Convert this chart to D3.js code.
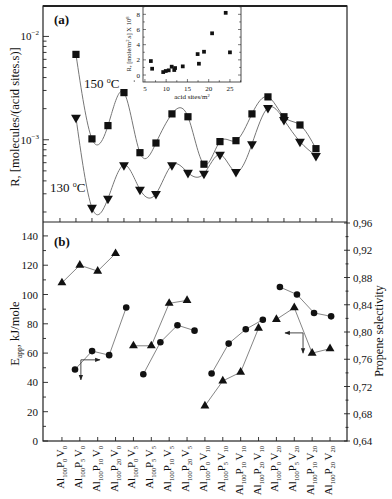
<!DOCTYPE html>
<html><head><meta charset="utf-8">
<script src="https://cdn.jsdelivr.net/npm/d3@7"></script>
<style>body{margin:0;background:#fff}svg{display:block}text{font-family:"Liberation Serif","Times New Roman",serif;fill:#111}</style>
</head><body><svg id="c" width="392" height="499"></svg>
<script>
// ---- data ----
const categories = ["Al100P0V0","Al100P5V0","Al100P10V0","Al100P20V0","Al100P0V5","Al100P5V5","Al100P10V5","Al100P20V5","Al100P0V10","Al100P5V10","Al100P10V10","Al100P20V10","Al100P0V20","Al100P5V20","Al100P10V20","Al100P20V20"];
const rate150 = [6.7e-3,1.02e-3,1.37e-3,2.86e-3,7.5e-4,9.3e-4,1.78e-3,1.67e-3,5.8e-4,9.6e-4,9.8e-4,1.78e-3,2.6e-3,1.67e-3,1.39e-3,8.2e-4];
const rate130 = [1.64e-3,2.2e-4,2.7e-4,5.7e-4,3.3e-4,3.0e-4,5.7e-4,4.8e-4,4.7e-4,7.2e-4,4.9e-4,9.1e-4,2.04e-3,1.56e-3,9.6e-4,7.0e-4];
const eapp = [108,120,116,128,65,65,94,96,24,41,47,77,83,91,60,63];
const selectivity = [0.745,0.772,0.766,0.836,0.738,0.785,0.810,0.802,0.739,0.783,0.804,0.818,0.866,0.855,0.828,0.823];
const acidSites = [6.4,6.7,9.3,9.9,10.6,11.3,11.9,12.1,13.9,17.4,17.7,18.9,20.8,24.0,25.0];
const insetRate = [1.84,0.83,0.39,0.53,0.62,1.1,0.66,0.92,1.14,2.76,1.49,3.07,5.5,8.2,2.99];
const eTicks = [0,20,40,60,80,100,120,140];
const sTicks = [0.64,0.68,0.72,0.76,0.80,0.84,0.88,0.92,0.96];
const insetXTicks = [5,10,15,20,25];
const insetYTicks = [0,2,4,6,8];
// arrows (in category-index / Eapp units): corner, horizontal end, vertical end
const arrows = [
  {cx:1.06, cy:55.4, hx:2.13, vy:41.7},
  {cx:13.49, cy:73.8, hx:12.48, vy:60}
];

// ---- layout ----
const svg = d3.select("#c");
const L=43, R=347, T=6, M=222, B=441;
const xA = d3.scaleLinear().domain([-2.06,16.94]).range([L,R]);
const yA = d3.scaleLog().domain([1.6e-4,1.97e-2]).range([M,T]);
const xT = d3.scaleLinear().domain([-1.06,15.95]).range([L,R]);
const xC = d3.scaleLinear().domain([-1.875,15.93]).range([L,R]);
const yE = d3.scaleLinear().domain([0,149.5]).range([B,M]);
const yS = d3.scaleLinear().domain([0.64,0.96]).range([B,M+1]);
const ix = d3.scaleLinear().domain([4.55,27.6]).range([143,241]);
const iy = d3.scaleLinear().domain([-0.92,9.1]).range([82,T]);

const defs = svg.append("defs");
defs.append("marker").attr("id","ah").attr("viewBox","0 0 10 10").attr("refX",9).attr("refY",5)
  .attr("markerWidth",6).attr("markerHeight",6).attr("orient","auto")
  .append("path").attr("d","M0,1L10,5L0,9z").attr("fill","#222");

const ink="#222", curveCol="#777";

// ---- panel (a) ----
const gA = svg.append("g");
const logTicks = yA.ticks();
logTicks.forEach(v=>{
  const major = Math.abs(Math.log10(v)-Math.round(Math.log10(v)))<1e-6;
  gA.append("line").attr("x1",L).attr("x2",L+(major?6:3.5)).attr("y1",yA(v)).attr("y2",yA(v)).attr("stroke",ink).attr("stroke-width",0.9);
  if(major){
    const t = gA.append("text").attr("x",L-4).attr("y",yA(v)+4).attr("text-anchor","end").style("font-size","11px");
    t.append("tspan").text("10");
    t.append("tspan").attr("dy",-5).style("font-size","7px").text("\u2212"+(-Math.round(Math.log10(v))));
  }
});
d3.range(-1,17).forEach(i=>{
  gA.append("line").attr("x1",xA(i)).attr("x2",xA(i)).attr("y1",M).attr("y2",M-4).attr("stroke",ink).attr("stroke-width",0.9);
});
const lineA = d3.line().x((d,i)=>xA(i)).y(d=>yA(d)).curve(d3.curveNatural);
gA.append("path").attr("d",lineA(rate150)).attr("fill","none").attr("stroke",curveCol).attr("stroke-width",1);
gA.append("path").attr("d",lineA(rate130)).attr("fill","none").attr("stroke",curveCol).attr("stroke-width",1);
gA.selectAll(".sq").data(rate150).join("path")
  .attr("d",d3.symbol(d3.symbolSquare,52)())
  .attr("transform",(d,i)=>`translate(${xA(i)},${yA(d)})`).attr("fill","#111");
gA.selectAll(".td").data(rate130).join("path")
  .attr("d",d3.symbol(d3.symbolTriangle,42)())
  .attr("transform",(d,i)=>`translate(${xA(i)},${yA(d)}) rotate(180)`).attr("fill","#111");
function degLabel(x,y,num){
  const t=gA.append("text").attr("x",x).attr("y",y).style("font-size","13px");
  t.append("tspan").text(num+" ");
  t.append("tspan").attr("dy",-5).style("font-size","8px").text("o");
  t.append("tspan").attr("dy",5).text("C");
}
degLabel(84,88,"150");
degLabel(50,192,"130");
svg.append("text").attr("x",54).attr("y",24).style("font-size","13px").style("font-weight","bold").text("(a)");
svg.append("text").attr("transform",`translate(19,${(T+M)/2+3}) rotate(-90)`).attr("text-anchor","middle").style("font-size","12.5px").text("R, [molecules/(acid sites.s)]");

// ---- inset ----
const gI = svg.append("g");
gI.append("rect").attr("x",ix.range()[0]).attr("y",T).attr("width",ix.range()[1]-ix.range()[0]).attr("height",82-T).attr("fill","#fff").attr("stroke",ink).attr("stroke-width",0.8);
d3.range(2.5,27.6,2.5).forEach(v=>{
  const major = v%5===0;
  gI.append("line").attr("x1",ix(v)).attr("x2",ix(v)).attr("y1",82).attr("y2",82-(major?3:1.8)).attr("stroke",ink).attr("stroke-width",0.6);
});
insetXTicks.forEach(v=>gI.append("text").attr("x",ix(v)).attr("y",91).attr("text-anchor","middle").style("font-size","7px").text(v));
d3.range(0,10,1).forEach(v=>{
  const major = v%2===0;
  gI.append("line").attr("x1",143).attr("x2",143+(major?3:1.8)).attr("y1",iy(v)).attr("y2",iy(v)).attr("stroke",ink).attr("stroke-width",0.6);
  gI.append("line").attr("x1",241).attr("x2",241-(major?3:1.8)).attr("y1",iy(v)).attr("y2",iy(v)).attr("stroke",ink).attr("stroke-width",0.6);
});
insetYTicks.forEach(v=>gI.append("text").attr("x",140).attr("y",iy(v)+2.5).attr("text-anchor","end").style("font-size","7px").text(v));
gI.selectAll(".is").data(acidSites).join("path")
  .attr("d",d3.symbol(d3.symbolSquare,14)())
  .attr("transform",(d,i)=>`translate(${ix(d)},${iy(insetRate[i])})`).attr("fill","#111");
const il = gI.append("text").attr("transform",`translate(131,44) rotate(-90)`).attr("text-anchor","middle").style("font-size","6.5px");
il.append("tspan").text("R, [mole/m");
il.append("tspan").attr("dy",-2.5).style("font-size","4.5px").text("2");
il.append("tspan").attr("dy",2.5).text(".s] X 10");
il.append("tspan").attr("dy",-2.5).style("font-size","4.5px").text("8");
const xl = gI.append("text").attr("x",192).attr("y",99).attr("text-anchor","middle").style("font-size","7px");
xl.append("tspan").text("acid sites/m");
xl.append("tspan").attr("dy",-2.5).style("font-size","4.5px").text("2");

// ---- panel (b) ----
const gB = svg.append("g");
d3.range(0,150,10).forEach(v=>{
  const major = v%20===0;
  gB.append("line").attr("x1",L).attr("x2",L+(major?5:3)).attr("y1",yE(v)).attr("y2",yE(v)).attr("stroke",ink).attr("stroke-width",0.9);
});
eTicks.forEach(v=>gB.append("text").attr("x",L-5).attr("y",yE(v)+4).attr("text-anchor","end").style("font-size","11px").text(v));
d3.range(0.64,0.9601,0.02).forEach(v=>{
  const major = Math.round(v*100)%4===0;
  gB.append("line").attr("x1",R-(major?3:1.5)).attr("x2",R+(major?3:1.5)).attr("y1",yS(v)).attr("y2",yS(v)).attr("stroke",ink).attr("stroke-width",0.9);
});
sTicks.forEach(v=>gB.append("text").attr("x",R+6).attr("y",yS(v)+4).style("font-size","11px").text(d3.format(".2f")(v).replace(".",",")));
categories.forEach((c,i)=>{
  gB.append("line").attr("x1",xT(i)).attr("x2",xT(i)).attr("y1",B).attr("y2",B-4).attr("stroke",ink).attr("stroke-width",0.9);
  const m = c.match(/Al(\d+)P(\d+)V(\d+)/);
  const x = xT(i)+2, y = B+5;
  const t = gB.append("text").attr("transform",`translate(${x},${y}) rotate(-90)`).attr("text-anchor","end").style("font-size","11px");
  t.append("tspan").text("Al");
  t.append("tspan").attr("dy",3).style("font-size","6.5px").text(m[1]);
  t.append("tspan").attr("dy",-3).text("P");
  t.append("tspan").attr("dy",3).style("font-size","6.5px").text(m[2]);
  t.append("tspan").attr("dy",-3).attr("dx",1.5).text("V");
  t.append("tspan").attr("dy",3).style("font-size","6.5px").text(m[3]);
});
const lineE = d3.line().x(d=>xT(d.i)).y(d=>yE(d.v));
const lineS = d3.line().x(d=>xC(d.i)).y(d=>yS(d.v));
d3.range(4).forEach(g=>{
  const e = eapp.map((v,i)=>({i,v})).slice(g*4,g*4+4);
  const s = selectivity.map((v,i)=>({i,v})).slice(g*4,g*4+4);
  gB.append("path").attr("d",lineE(e)).attr("fill","none").attr("stroke",curveCol).attr("stroke-width",0.9);
  gB.append("path").attr("d",lineS(s)).attr("fill","none").attr("stroke",curveCol).attr("stroke-width",0.9);
});
gB.selectAll(".tu").data(eapp).join("path")
  .attr("d",d3.symbol(d3.symbolTriangle,34)())
  .attr("transform",(d,i)=>`translate(${xT(i)},${yE(d)})`).attr("fill","#111");
gB.selectAll(".ci").data(selectivity).join("circle")
  .attr("cx",(d,i)=>xC(i)).attr("cy",d=>yS(d)).attr("r",3.3).attr("fill","#111");
arrows.forEach(a=>{
  gB.append("line").attr("x1",xT(a.cx)).attr("y1",yE(a.cy)).attr("x2",xT(a.hx)).attr("y2",yE(a.cy)).attr("stroke","#333").attr("stroke-width",0.9).attr("marker-end","url(#ah)");
  gB.append("line").attr("x1",xT(a.cx)).attr("y1",yE(a.cy)).attr("x2",xT(a.cx)).attr("y2",yE(a.vy)).attr("stroke","#333").attr("stroke-width",0.9).attr("marker-end","url(#ah)");
});
svg.append("text").attr("x",54).attr("y",246).style("font-size","13px").style("font-weight","bold").text("(b)");
const el = svg.append("text").attr("transform",`translate(19,${(M+B)/2+2}) rotate(-90)`).attr("text-anchor","middle").style("font-size","12.5px");
el.append("tspan").text("E");
el.append("tspan").attr("dy",3).style("font-size","7.5px").text("app");
el.append("tspan").attr("dy",-3).text(", kJ/mole");
svg.append("text").attr("transform",`translate(383,${331}) rotate(-90)`).attr("text-anchor","middle").style("font-size","12px").text("Propene selectivity");

// ---- frames ----
svg.append("rect").attr("x",L).attr("y",T).attr("width",R-L).attr("height",B-T).attr("fill","none").attr("stroke",ink).attr("stroke-width",1.2);
svg.append("line").attr("x1",L).attr("x2",R).attr("y1",M).attr("y2",M).attr("stroke",ink).attr("stroke-width",1.2);
svg.append("line").attr("x1",L).attr("x2",R).attr("y1",T).attr("y2",T).attr("stroke",ink).attr("stroke-width",2);
</script></body></html>
